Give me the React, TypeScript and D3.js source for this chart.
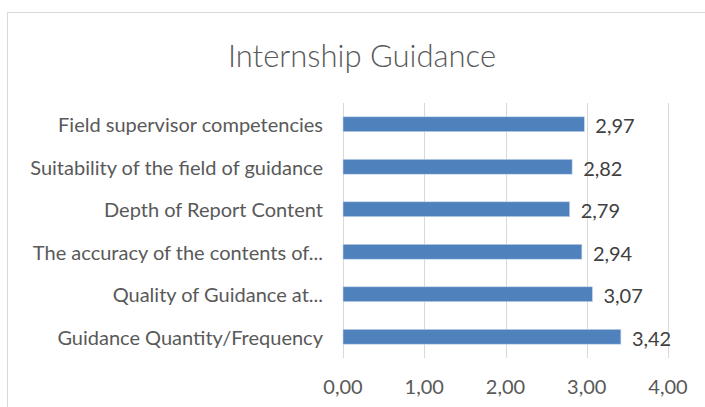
import React, { useEffect, useRef } from 'react';
import * as d3 from 'd3';

const categories = [
  'Field supervisor competencies',
  'Suitability of the field of guidance',
  'Depth of Report Content',
  'The accuracy of the contents of...',
  'Quality of Guidance at...',
  'Guidance Quantity/Frequency',
];
const values = [2.97, 2.82, 2.79, 2.94, 3.07, 3.42];
const xTicks = [0, 1, 2, 3, 4];

const W = 705;
const H = 407;
const FONT = 'Lato, "Open Sans", sans-serif';
const fmt = (v: number) => v.toFixed(2).replace('.', ',');

const App = () => {
  const ref = useRef<SVGSVGElement>(null);

  useEffect(() => {
    if (!ref.current) return;
    const svg = d3.select(ref.current);
    svg.selectAll('*').remove();

    // chart border (runs off the right and bottom edges)
    svg.append('rect')
      .attr('x', 7.5).attr('y', 12.5)
      .attr('width', W + 20).attr('height', H + 20)
      .attr('fill', '#fff').attr('stroke', '#d9d9d9');

    svg.append('text')
      .attr('x', 362).attr('y', 55)
      .attr('text-anchor', 'middle').attr('dominant-baseline', 'central')
      .attr('font-family', FONT).attr('font-size', 31).attr('font-weight', 300)
      .attr('fill', '#595959')
      .text('Internship Guidance');

    const x = d3.scaleLinear().domain([0, 4]).range([343, 668]);
    const y = d3.scaleBand().domain(categories).range([103, 358]).paddingInner(0.65).paddingOuter(0.325);

    // gridlines
    svg.append('g').selectAll('line').data(xTicks).join('line')
      .attr('x1', d => Math.round(x(d)) + 0.5).attr('x2', d => Math.round(x(d)) + 0.5)
      .attr('y1', 103).attr('y2', 358)
      .attr('stroke', '#d9d9d9');

    svg.append('g').selectAll('text').data(xTicks).join('text')
      .attr('x', d => x(d)).attr('y', 386)
      .attr('text-anchor', 'middle').attr('dominant-baseline', 'central')
      .attr('font-family', FONT).attr('font-size', 20).attr('fill', '#595959')
      .text(d => fmt(d));

    svg.append('g').selectAll('rect').data(values).join('rect')
      .attr('x', x(0)).attr('y', (_, i) => y(categories[i])!)
      .attr('width', d => x(d) - x(0)).attr('height', y.bandwidth())
      .attr('fill', '#4f81bd').attr('stroke', '#c5d5ea').attr('stroke-width', 0.6);

    svg.append('g').selectAll('text').data(values).join('text')
      .attr('x', d => x(d) + 11).attr('y', (_, i) => y(categories[i])! + y.bandwidth() / 2 + 1)
      .attr('dominant-baseline', 'central')
      .attr('font-family', FONT).attr('font-size', 20).attr('fill', '#404040')
      .text(d => fmt(d));

    svg.append('g').selectAll('text').data(categories).join('text')
      .attr('x', 323).attr('y', d => y(d)! + y.bandwidth() / 2)
      .attr('text-anchor', 'end').attr('dominant-baseline', 'central')
      .attr('font-family', FONT).attr('font-size', 20).attr('fill', '#595959')
      .text(d => d);
  }, []);

  return (
    <svg ref={ref} width={W} height={H} style={{ position: 'absolute', left: 0, top: 0 }} />
  );
};

export default App;
